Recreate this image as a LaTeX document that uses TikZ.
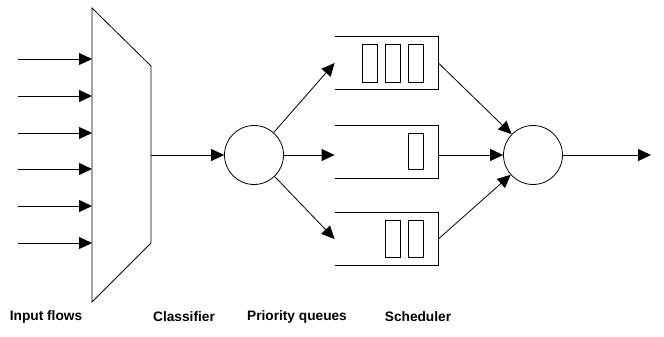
\documentclass[tikz,border=0pt]{standalone}
\usepackage{fontspec}
\setmainfont{Liberation Sans}
\usetikzlibrary{arrows.meta,positioning}

\begin{document}
\begin{tikzpicture}[x=1pt,y=-1pt,line width=0.8pt,
  flow/.style={-{Triangle[length=13pt,width=12pt]}},
  station/.style={circle,draw,minimum size=59pt,inner sep=0pt},
  queue/.style={minimum width=103pt,minimum height=52pt,inner sep=0pt},
  packet/.style={draw,minimum width=15pt,minimum height=37pt,inner sep=0pt},
  caption/.style={font=\bfseries\fontsize{13.7}{16}\selectfont}]
\useasboundingbox (0,0) rectangle (664,337);
% multiplexer
\draw (92,8) -- (151,66) -- (151,243) -- (92,302) -- cycle;
\coordinate (muxout) at (151,155);
\foreach \y [count=\i] in {59,96,133,169,206,243} {
  \coordinate (src\i) at (18,\y);
  \coordinate (dst\i) at (92,\y);
  \draw[flow] (src\i) -- (dst\i);
}
% classifier
\node[station] (classifier) at (254,155) {};
\draw[flow] (muxout) -- (classifier);
% queues
\node[queue] (q1) at (386.5,63) {};
\node[queue] (q2) at (386.5,151.5) {};
\node[queue] (q3) at (386.5,239) {};
\foreach \q in {q1,q2,q3}
  \draw (\q.north west) -- (\q.north east) -- (\q.south east) -- (\q.south west);
\node[packet,minimum height=38pt,left=15pt of q1.east,anchor=east] (p11) {};
\node[packet,minimum height=38pt,left=7pt of p11] (p12) {};
\node[packet,minimum height=38pt,left=7pt of p12] (p13) {};
\node[packet,minimum height=36pt,left=15pt of q2.east,anchor=east] (p21) {};
\node[packet,left=15pt of q3.east,anchor=east] (p31) {};
\node[packet,left=7pt of p31] (p32) {};
\draw[flow] (classifier) -- (q1.west);
\draw[flow] (classifier) -- (q2.west |- classifier);
\draw[flow] (classifier) -- (q3.west);
% scheduler
\node[station] (scheduler) at (533,155) {};
\coordinate (out) at (651,155);
\draw[flow] (q1.east) -- (scheduler);
\draw[flow] (q2.east |- scheduler) -- (scheduler);
\draw[flow] (q3.east) -- (scheduler);
\draw[flow] (scheduler) -- (out);
% captions
\node[caption] (lin) at (46,317) {Input flows};
\node[caption] (lcl) at (184,317) {Classifier};
\node[caption] (lpq) at (297,317) {Priority queues};
\node[caption] (lsc) at (418,317) {Scheduler};
\end{tikzpicture}
\end{document}
